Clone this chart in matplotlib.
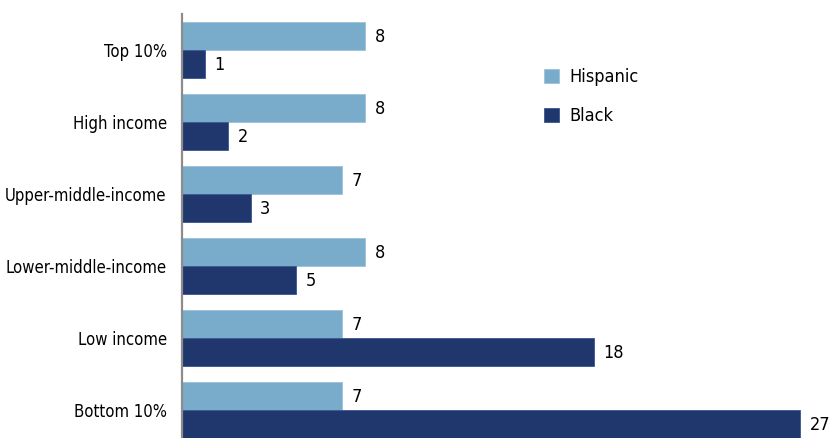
import matplotlib.pyplot as plt
from matplotlib import font_manager
import numpy as np

# prefer a narrow face for the labels, otherwise fall back to Liberation Sans
narrow = [f for f in font_manager.fontManager.ttflist
          if 'Narrow' in f.name or 'condensed' in str(f.stretch)]
if narrow:
    plt.rcParams['font.family'] = [narrow[0].name, 'DejaVu Sans']
    plt.rcParams['font.stretch'] = narrow[0].stretch
    fs = 13
else:
    plt.rcParams['font.family'] = ['Liberation Sans', 'DejaVu Sans']
    fs = 12

groups = ['Top 10%', 'High income', 'Upper-middle-income',
          'Lower-middle-income', 'Low income', 'Bottom 10%']
hispanic = [8, 8, 7, 8, 7, 7]
black = [1, 2, 3, 5, 18, 27]

light = '#79abcb'
navy = '#1f376d'

fig = plt.figure(figsize=(8.3, 4.38), dpi=100)
ax = fig.add_axes([182/830, 0, 648/830, 424/438])

y = np.arange(len(groups))
h = 28/72.
b1 = ax.barh(y - h/2, hispanic, height=h, color=light, edgecolor='#9cc2dc', linewidth=0.6, label='Hispanic')
b2 = ax.barh(y + h/2, black, height=h, color=navy, edgecolor='#3a5690', linewidth=0.6, label='Black')

for bars, vals in ((b1, hispanic), (b2, black)):
    for bar, v in zip(bars, vals):
        ax.text(v + 0.42, bar.get_y() + bar.get_height()/2 + 0.02, str(v),
                va='center', ha='left', fontsize=fs)

ax.set_xlim(0, 648/22.89)
ax.set_ylim(5.389, -0.5)
ax.set_yticks(y)
ax.set_yticklabels(groups, fontsize=fs - 1)
ax.tick_params(axis='y', length=0, pad=11)
ax.set_xticks([])
for s in ['top', 'right', 'bottom']:
    ax.spines[s].set_visible(False)
ax.spines['left'].set_color('#8c8c8c')
ax.spines['left'].set_linewidth(1.6)

ax.legend(loc='upper left', bbox_to_anchor=(0.533, 0.91), frameon=False,
          fontsize=fs, handlelength=0.85, handleheight=0.85,
          labelspacing=1.15, handletextpad=0.6)

plt.savefig('out.png', dpi=100)
